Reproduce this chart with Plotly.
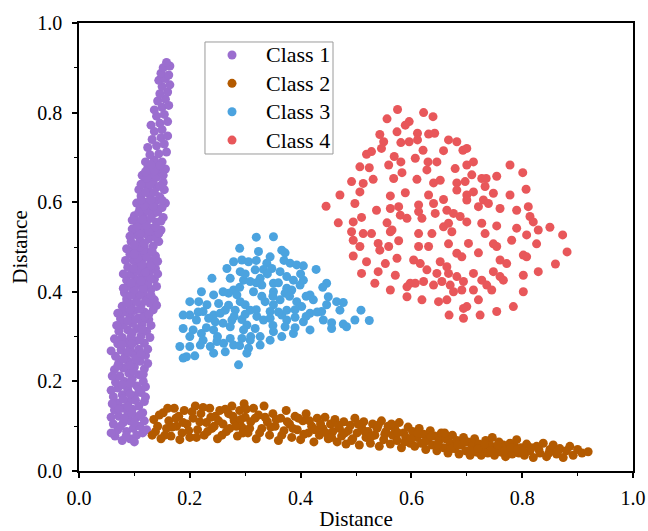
import plotly.graph_objects as go

class_names = ["Class 1", "Class 2", "Class 3", "Class 4"]
colors = ["#9B6ECF", "#B35A00", "#4BA3DF", "#E8575A"]
tick_vals = [0.0, 0.2, 0.4, 0.6, 0.8, 1.0]
tick_text = ["0.0", "0.2", "0.4", "0.6", "0.8", "1.0"]

class1_pts = [
    (0.065,0.078),(0.078,0.068),(0.092,0.072),(0.104,0.080),(0.115,0.085),(0.070,0.092),(0.086,0.088),(0.098,0.095),
    (0.110,0.100),(0.062,0.105),(0.080,0.108),(0.092,0.112),(0.118,0.112),(0.072,0.122),(0.088,0.126),(0.104,0.120),
    (0.115,0.130),(0.064,0.136),(0.080,0.140),(0.096,0.138),(0.108,0.145),(0.070,0.152),(0.090,0.155),(0.118,0.155),
    (0.062,0.166),(0.078,0.170),(0.100,0.168),(0.112,0.175),(0.070,0.185),(0.088,0.182),(0.104,0.190),(0.066,0.198),
    (0.082,0.200),(0.096,0.205),(0.116,0.200),
    (0.074,0.212),(0.090,0.218),(0.108,0.215),(0.064,0.226),(0.080,0.230),(0.100,0.232),(0.118,0.228),(0.072,0.242),
    (0.088,0.246),(0.110,0.245),(0.066,0.256),(0.084,0.258),(0.098,0.262),(0.120,0.258),(0.076,0.270),(0.092,0.274),
    (0.108,0.272),(0.070,0.284),(0.086,0.288),(0.102,0.290),(0.118,0.285),(0.078,0.298),(0.094,0.300),(0.112,0.302),
    (0.072,0.312),(0.088,0.315),(0.104,0.318),(0.122,0.312),(0.080,0.326),(0.096,0.330),(0.114,0.328),(0.075,0.340),
    (0.092,0.345),(0.108,0.342),(0.126,0.338),(0.082,0.355),(0.100,0.358),(0.118,0.355),(0.134,0.360),(0.078,0.368),
    (0.094,0.372),(0.112,0.370),(0.128,0.375),(0.086,0.384),(0.104,0.386),(0.120,0.388),(0.136,0.382),(0.082,0.398),
    (0.098,0.400),(0.116,0.398),
    (0.130,0.405),(0.090,0.412),(0.108,0.415),(0.124,0.418),(0.086,0.426),(0.102,0.428),(0.118,0.432),(0.136,0.428),
    (0.094,0.440),(0.112,0.442),(0.128,0.446),(0.088,0.455),(0.106,0.458),(0.122,0.456),(0.138,0.452),(0.098,0.470),
    (0.114,0.472),(0.130,0.468),(0.092,0.484),(0.108,0.486),(0.124,0.488),(0.138,0.480),(0.100,0.498),(0.118,0.500),
    (0.134,0.502),(0.094,0.512),(0.110,0.515),(0.126,0.518),(0.144,0.512),(0.102,0.528),(0.118,0.530),(0.136,0.526),
    (0.096,0.540),(0.114,0.544),(0.130,0.542),(0.148,0.538),(0.106,0.556),(0.122,0.558),(0.140,0.555),(0.100,0.570),
    (0.116,0.572),(0.134,0.574),(0.152,0.566),(0.110,0.586),(0.126,0.588),(0.144,0.585),(0.104,0.598),(0.120,0.600),
    (0.138,0.602),(0.156,0.598),
    (0.112,0.614),(0.128,0.616),(0.146,0.612),(0.108,0.628),(0.124,0.630),(0.140,0.634),(0.118,0.646),(0.134,0.648),
    (0.152,0.644),(0.114,0.660),(0.130,0.662),(0.146,0.665),(0.124,0.676),(0.140,0.678),(0.156,0.674),(0.120,0.690),
    (0.136,0.694),(0.150,0.690),
    (0.128,0.706),(0.144,0.708),(0.158,0.712),(0.124,0.722),(0.140,0.726),(0.154,0.730),(0.132,0.740),(0.148,0.744),
    (0.160,0.748),(0.136,0.758),(0.150,0.762),(0.130,0.772),(0.146,0.776),(0.160,0.780),(0.140,0.792),(0.154,0.796),
    (0.136,0.806),
    (0.150,0.812),(0.162,0.816),(0.142,0.826),(0.156,0.830),(0.146,0.842),(0.160,0.846),(0.150,0.858),(0.164,0.862),
    (0.144,0.872),(0.156,0.876),(0.148,0.888),(0.162,0.884),(0.152,0.900),(0.164,0.904),(0.158,0.912),
    (0.058,0.085),(0.085,0.078),(0.100,0.065),(0.122,0.092),(0.075,0.100),(0.100,0.108),(0.058,0.120),(0.082,0.118),
    (0.110,0.125),(0.095,0.130),(0.072,0.138),(0.088,0.145),(0.060,0.150),(0.102,0.158),(0.080,0.160),(0.120,0.165),
    (0.092,0.172),(0.058,0.180),(0.108,0.182),(0.078,0.192),(0.120,0.188),(0.092,0.195),
    (0.060,0.212),(0.098,0.222),(0.116,0.216),(0.070,0.235),(0.092,0.236),(0.124,0.240),(0.080,0.250),(0.102,0.250),
    (0.058,0.268),(0.112,0.262),(0.088,0.265),(0.124,0.272),(0.078,0.282),(0.096,0.284),(0.110,0.293),(0.064,0.295),
    (0.128,0.298),
    (0.096,0.308),(0.114,0.316),(0.068,0.325),(0.088,0.335),(0.130,0.325),(0.102,0.338),(0.118,0.344),(0.070,0.352),
    (0.092,0.360),(0.110,0.362),(0.126,0.350),(0.086,0.375),(0.104,0.378),(0.140,0.370),(0.120,0.380),(0.094,0.392),
    (0.110,0.394),(0.130,0.392),
    (0.080,0.408),(0.100,0.405),(0.116,0.408),(0.140,0.412),(0.094,0.420),(0.112,0.424),(0.130,0.430),(0.080,0.440),
    (0.104,0.446),(0.120,0.444),(0.142,0.440),(0.098,0.452),(0.114,0.460),(0.130,0.458),(0.084,0.470),(0.106,0.474),
    (0.122,0.478),(0.142,0.468),(0.100,0.484),(0.116,0.492),(0.132,0.490),(0.086,0.496),(0.110,0.500),
    (0.100,0.504),(0.118,0.508),(0.140,0.520),(0.092,0.524),(0.110,0.530),(0.126,0.535),(0.144,0.530),(0.104,0.546),
    (0.122,0.548),(0.138,0.545),(0.096,0.560),(0.114,0.562),(0.130,0.564),(0.148,0.558),(0.108,0.578),(0.124,0.580),
    (0.142,0.578),(0.118,0.592),(0.134,0.590),(0.150,0.588),
    (0.112,0.604),(0.130,0.606),(0.150,0.604),(0.120,0.622),(0.136,0.622),(0.154,0.628),(0.112,0.640),(0.128,0.640),
    (0.146,0.636),(0.122,0.654),(0.140,0.656),(0.120,0.668),(0.136,0.670),(0.152,0.660),(0.130,0.684),(0.146,0.682),
]

class2_pts = [
    (0.132,0.080),(0.135,0.115),(0.142,0.100),(0.148,0.072),(0.152,0.130),(0.158,0.095),(0.162,0.112),(0.166,0.078),
    (0.172,0.140),(0.176,0.100),(0.180,0.122),(0.186,0.085),(0.190,0.135),(0.195,0.105),(0.200,0.075),(0.206,0.118),
    (0.210,0.145),(0.214,0.092),(0.220,0.128),(0.226,0.080),(0.230,0.108),(0.236,0.140),(0.240,0.095),(0.246,0.122),
    (0.250,0.072),(0.254,0.135),(0.260,0.105),(0.266,0.088),(0.270,0.128),(0.276,0.145),(0.280,0.112),(0.286,0.078),
    (0.290,0.135),(0.294,0.098),(0.298,0.150),(0.300,0.120),
    (0.305,0.085),(0.310,0.110),(0.315,0.140),(0.320,0.072),(0.324,0.125),(0.330,0.095),(0.334,0.145),(0.340,0.110),
    (0.344,0.080),(0.350,0.128),(0.354,0.100),(0.360,0.068),(0.364,0.118),(0.370,0.090),(0.374,0.135),(0.380,0.105),
    (0.384,0.075),(0.390,0.122),(0.394,0.092),(0.400,0.070),(0.404,0.112),(0.410,0.128),(0.414,0.085),(0.420,0.100),
    (0.424,0.065),(0.430,0.118),(0.434,0.080),(0.440,0.095),(0.444,0.120),(0.450,0.072),
    (0.454,0.105),(0.458,0.088),(0.462,0.115),(0.466,0.065),(0.470,0.095),(0.474,0.078),(0.478,0.110),(0.482,0.060),
    (0.486,0.090),(0.490,0.102),(0.494,0.072),(0.498,0.118),(0.502,0.085),(0.506,0.058),(0.510,0.098),(0.514,0.110),
    (0.518,0.075),(0.522,0.088),(0.526,0.062),(0.530,0.105),(0.534,0.080),(0.538,0.095),(0.542,0.055),(0.546,0.112),
    (0.550,0.070),(0.554,0.088),(0.558,0.100),(0.562,0.060),(0.566,0.080),(0.570,0.095),(0.574,0.068),(0.578,0.108),
    (0.582,0.052),(0.586,0.085),(0.590,0.075),(0.594,0.098),(0.598,0.062),
    (0.602,0.088),(0.606,0.055),(0.610,0.075),(0.614,0.095),(0.618,0.062),(0.622,0.082),(0.626,0.048),(0.630,0.070),
    (0.634,0.090),(0.638,0.058),(0.642,0.078),(0.646,0.045),(0.650,0.068),(0.654,0.085),(0.658,0.052),(0.662,0.072),
    (0.666,0.040),(0.670,0.062),(0.674,0.080),(0.678,0.050),(0.682,0.068),(0.686,0.038),(0.690,0.058),(0.694,0.075),
    (0.698,0.045),(0.702,0.065),(0.706,0.035),(0.710,0.055),(0.714,0.072),(0.718,0.042),(0.722,0.060),(0.726,0.035),
    (0.730,0.052),(0.734,0.068),(0.738,0.040),(0.742,0.058),(0.746,0.075),(0.750,0.035),(0.754,0.050),(0.758,0.065),
    (0.762,0.042),(0.766,0.058),(0.770,0.032),(0.774,0.048),(0.778,0.062),(0.782,0.038),(0.786,0.055),(0.790,0.070),
    (0.794,0.040),(0.798,0.052),
    (0.804,0.035),(0.808,0.060),(0.814,0.045),(0.820,0.030),(0.826,0.055),(0.832,0.040),(0.838,0.062),(0.844,0.032),
    (0.850,0.048),(0.856,0.058),(0.862,0.038),(0.868,0.050),(0.874,0.030),(0.880,0.045),(0.886,0.055),(0.892,0.035),
    (0.900,0.048),(0.908,0.040),(0.919,0.043),
    (0.138,0.088),(0.145,0.125),(0.155,0.080),(0.160,0.140),(0.168,0.098),(0.175,0.118),(0.182,0.070),(0.188,0.108),
    (0.198,0.090),(0.204,0.132),(0.212,0.075),(0.218,0.110),(0.224,0.142),(0.232,0.088),(0.238,0.120),(0.244,0.100),
    (0.252,0.112),(0.258,0.080),(0.264,0.138),(0.272,0.095),(0.278,0.122),(0.284,0.100),(0.292,0.115),(0.296,0.085),
    (0.302,0.138),(0.308,0.095),(0.318,0.118),(0.326,0.085),(0.336,0.120),(0.346,0.098),(0.356,0.115),(0.366,0.080),
    (0.376,0.110),(0.386,0.095),(0.396,0.118),(0.406,0.082),(0.416,0.112),(0.426,0.092),(0.436,0.105),(0.446,0.085),
    (0.456,0.075),(0.468,0.102),(0.480,0.085),(0.492,0.068),(0.504,0.105),(0.516,0.088),(0.528,0.078),(0.540,0.102),
    (0.552,0.082),(0.564,0.105),(0.576,0.085),(0.588,0.065),(0.600,0.072),(0.612,0.085),(0.624,0.065),(0.636,0.078),
    (0.648,0.060),(0.660,0.085),(0.672,0.050),(0.684,0.058),(0.696,0.065),(0.708,0.045),(0.720,0.050),(0.732,0.060),
    (0.744,0.045),(0.756,0.058),(0.768,0.045),(0.780,0.052),(0.792,0.048),(0.802,0.045),(0.816,0.052),(0.830,0.048),
    (0.848,0.040),(0.865,0.045),
]

class3_pts = [
    (0.320,0.522),(0.351,0.523),(0.290,0.497),(0.324,0.490),(0.366,0.493),(0.372,0.487),(0.279,0.467),(0.294,0.471),
    (0.306,0.467),(0.345,0.478),(0.339,0.464),(0.381,0.464),(0.393,0.460),(0.405,0.458),(0.267,0.452),(0.291,0.445),
    (0.318,0.449),(0.333,0.450),(0.348,0.452),(0.363,0.445),(0.428,0.450),(0.240,0.430),(0.273,0.430),(0.297,0.426),
    (0.309,0.423),(0.327,0.430),(0.375,0.434),(0.387,0.426),(0.405,0.426),(0.330,0.415),(0.351,0.419),(0.375,0.408),
    (0.399,0.415),(0.447,0.419),(0.221,0.400),(0.243,0.393),(0.270,0.397),(0.279,0.404),(0.285,0.393),(0.315,0.400),
    (0.351,0.400),(0.372,0.397),(0.384,0.404),(0.417,0.393),(0.423,0.382),(0.450,0.389),(0.200,0.378),(0.216,0.378),
    (0.231,0.371),(0.252,0.374),(0.264,0.359),(0.291,0.378),(0.300,0.371),(0.336,0.378),(0.351,0.371),(0.363,0.382),
    (0.393,0.378),(0.402,0.367),(0.447,0.371),(0.465,0.378),(0.477,0.376),(0.188,0.348),(0.200,0.348),(0.224,0.356),
    (0.243,0.348),(0.255,0.352),(0.282,0.359),(0.309,0.359),(0.321,0.345),(0.345,0.356),(0.366,0.348),(0.375,0.359),
    (0.417,0.352),(0.438,0.356),(0.471,0.359),(0.509,0.359),(0.212,0.337),(0.234,0.341),(0.246,0.333),(0.276,0.337),
    (0.294,0.338),(0.303,0.326),(0.333,0.337),(0.345,0.341),(0.375,0.337),(0.390,0.343),(0.405,0.333),(0.441,0.337),
    (0.456,0.331),(0.477,0.328),(0.498,0.337),(0.524,0.336),(0.188,0.318),(0.206,0.315),(0.221,0.307),(0.243,0.315),
    (0.273,0.322),(0.297,0.315),(0.318,0.318),(0.351,0.311),(0.372,0.322),(0.387,0.307),(0.417,0.315),(0.456,0.318),
    (0.483,0.322),(0.200,0.300),(0.224,0.292),(0.249,0.289),(0.273,0.296),(0.294,0.296),(0.309,0.292),(0.327,0.300),
    (0.345,0.292),(0.366,0.300),(0.182,0.278),(0.200,0.278),(0.219,0.281),(0.237,0.278),(0.261,0.285),(0.279,0.281),
    (0.306,0.274),(0.327,0.281),(0.194,0.255),(0.209,0.257),(0.243,0.263),(0.264,0.266),(0.303,0.263),(0.288,0.237),
    (0.188,0.252),
    (0.260,0.400),(0.290,0.410),(0.320,0.420),(0.340,0.440),(0.360,0.420),(0.300,0.350),(0.320,0.360),(0.280,0.345),
    (0.260,0.330),(0.360,0.355),(0.390,0.360),(0.410,0.390),(0.380,0.390),(0.350,0.390),(0.330,0.390),(0.310,0.300),
    (0.290,0.280),(0.350,0.325),(0.430,0.355),(0.440,0.410),(0.400,0.440),(0.370,0.470),(0.320,0.470),(0.300,0.440),
    (0.270,0.370),(0.230,0.320),(0.215,0.355),(0.250,0.300),(0.410,0.345),(0.390,0.320),
]

class4_pts = [
    (0.575,0.807),(0.556,0.786),(0.622,0.800),(0.639,0.791),(0.596,0.780),(0.589,0.772),(0.543,0.751),(0.574,0.757),
    (0.611,0.754),(0.631,0.752),(0.642,0.754),(0.550,0.735),(0.546,0.720),(0.581,0.733),(0.596,0.735),(0.611,0.739),
    (0.667,0.739),(0.682,0.735),(0.528,0.713),(0.519,0.707),(0.621,0.716),(0.658,0.715),(0.693,0.716),(0.700,0.720),
    (0.569,0.702),(0.581,0.690),(0.607,0.698),(0.630,0.690),(0.646,0.690),(0.507,0.679),(0.524,0.677),(0.559,0.683),
    (0.628,0.672),(0.679,0.675),(0.700,0.683),(0.712,0.690),(0.778,0.683),(0.801,0.666),(0.709,0.661),(0.727,0.653),
    (0.735,0.653),(0.754,0.658),(0.492,0.646),(0.513,0.642),(0.531,0.651),(0.568,0.653),(0.583,0.666),(0.610,0.651),
    (0.640,0.643),(0.652,0.649),(0.682,0.643),(0.697,0.646),(0.471,0.616),(0.507,0.623),(0.562,0.614),(0.589,0.621),
    (0.631,0.616),(0.658,0.606),(0.682,0.627),(0.700,0.616),(0.712,0.623),(0.733,0.635),(0.748,0.620),(0.778,0.616),
    (0.807,0.629),(0.446,0.591),(0.498,0.597),(0.537,0.582),(0.562,0.586),(0.577,0.590),(0.580,0.571),(0.613,0.594),
    (0.640,0.597),(0.664,0.582),(0.676,0.575),(0.700,0.605),(0.721,0.590),(0.730,0.605),(0.739,0.597),(0.760,0.586),
    (0.790,0.582),(0.811,0.590),(0.468,0.554),(0.495,0.556),(0.510,0.566),(0.556,0.554),(0.565,0.538),(0.592,0.564),
    (0.613,0.579),(0.619,0.564),(0.643,0.575),(0.658,0.545),(0.667,0.553),(0.688,0.568),(0.700,0.556),(0.727,0.553),
    (0.754,0.547),(0.790,0.542),(0.814,0.568),(0.820,0.556),(0.492,0.534),(0.513,0.530),(0.528,0.530),(0.562,0.534),
    (0.613,0.530),(0.637,0.530),(0.673,0.534),(0.733,0.530),(0.781,0.515),(0.808,0.527),(0.829,0.538),(0.850,0.544),
    (0.873,0.527),(0.495,0.515),(0.507,0.501),(0.540,0.508),(0.543,0.493),(0.559,0.501),(0.577,0.514),(0.613,0.501),
    (0.631,0.501),(0.667,0.507),(0.703,0.508),(0.721,0.487),(0.748,0.507),(0.754,0.501),(0.826,0.507),(0.881,0.489),
    (0.495,0.480),(0.519,0.467),(0.553,0.463),(0.574,0.475),(0.604,0.471),(0.616,0.463),(0.652,0.467),(0.664,0.456),
    (0.682,0.486),(0.691,0.478),(0.760,0.471),(0.772,0.463),(0.802,0.482),(0.808,0.478),(0.860,0.462),(0.510,0.441),
    (0.540,0.445),(0.571,0.437),(0.598,0.419),(0.628,0.449),(0.646,0.441),(0.667,0.441),(0.682,0.434),(0.712,0.441),
    (0.727,0.426),(0.748,0.445),(0.760,0.434),(0.802,0.437),(0.829,0.445),(0.534,0.419),(0.562,0.404),(0.592,0.411),
    (0.607,0.419),(0.622,0.423),(0.640,0.415),(0.655,0.423),(0.670,0.415),(0.694,0.423),(0.712,0.404),(0.736,0.415),
    (0.766,0.426),(0.592,0.389),(0.619,0.382),(0.649,0.378),(0.664,0.382),(0.676,0.400),(0.691,0.404),(0.700,0.367),
    (0.721,0.382),(0.745,0.404),(0.802,0.400),(0.668,0.348),(0.694,0.341),(0.724,0.348),(0.754,0.356),(0.784,0.367),
    (0.694,0.363),
]

all_classes = [class1_pts, class2_pts, class3_pts, class4_pts]

FONT = "Liberation Serif"
MARKER_SIZE = 9

fig = go.Figure()
for name, color, pts in zip(class_names, colors, all_classes):
    fig.add_trace(go.Scatter(
        x=[p[0] for p in pts],
        y=[p[1] for p in pts],
        mode="markers",
        name=name,
        marker=dict(color=color, size=MARKER_SIZE, line=dict(width=0)),
        showlegend=False,
    ))

# Legend box drawn in paper coordinates (compact row spacing as in the reference)
leg_x0, leg_x1, leg_y0, leg_y1 = 0.2274, 0.4585, 0.7076, 0.9576
leg_marker_x, leg_text_x = 0.2762, 0.334
leg_top_row, leg_row_step = 0.9286, 0.0633

shapes = [dict(type="rect", xref="paper", yref="paper", x0=leg_x0, x1=leg_x1, y0=leg_y0, y1=leg_y1,
               line=dict(color="#9a9a9a", width=1), fillcolor="white", layer="above")]
annotations = []
for i, (name, color) in enumerate(zip(class_names, colors)):
    yy = leg_top_row - i * leg_row_step
    shapes.append(dict(type="circle", xref="paper", yref="paper", xsizemode="pixel", ysizemode="pixel",
                       xanchor=leg_marker_x, yanchor=yy, x0=-4.5, x1=4.5, y0=-4.5, y1=4.5,
                       fillcolor=color, line=dict(width=0), layer="above"))
    annotations.append(dict(text=name, xref="paper", yref="paper", x=leg_text_x, y=yy,
                            xanchor="left", yanchor="middle", showarrow=False,
                            font=dict(family=FONT, size=22, color="black")))

axis_common = dict(
    range=[0, 1],
    tickvals=tick_vals,
    ticktext=tick_text,
    showgrid=False,
    zeroline=False,
    showline=True,
    linecolor="black",
    linewidth=1.6,
    mirror=True,
    ticks="outside",
    ticklen=5,
    tickwidth=1.6,
    tickcolor="black",
    automargin=False,
    tickfont=dict(family=FONT, size=20, color="black"),
    minor=dict(dtick=0.1, tick0=0, ticks="outside", ticklen=3, tickwidth=1.4, tickcolor="black"),
)

fig.update_layout(
    width=648,
    height=531,
    margin=dict(l=79, r=15, t=23, b=60),
    paper_bgcolor="white",
    plot_bgcolor="white",
    font=dict(family=FONT, color="black"),
    xaxis=dict(axis_common, ticklabelstandoff=3,
               title=dict(text="Distance", font=dict(family=FONT, size=21), standoff=8)),
    yaxis=dict(axis_common, ticklabelstandoff=6,
               title=dict(text="Distance", font=dict(family=FONT, size=21), standoff=4)),
    shapes=shapes,
    annotations=annotations,
    showlegend=False,
)

fig.write_html(
    "out.html",
    config={"displayModeBar": False},
    post_script="document.body.style.margin='0';document.body.style.overflow='hidden';",
)
